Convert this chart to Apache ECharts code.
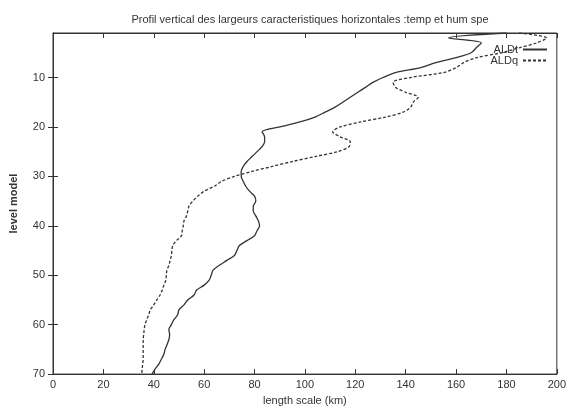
<!DOCTYPE html>
<html>
<head>
<meta charset="utf-8">
<script src="https://cdn.jsdelivr.net/npm/echarts@6/dist/echarts.min.js"></script>
<style>
  html, body { margin: 0; padding: 0; background: #fff; }
  #chart { width: 569px; height: 411px; }
</style>
</head>
<body>
<div id="chart"></div>
<script>
// niveaux du modele (1 = haut)
var levels = [];
for (var i = 1; i <= 70; i++) levels.push(i);

// ALDt : echelle de longueur temperature (km)
var aldt = [
  180, 157, 170, 168, 166, 160, 152, 146, 136, 131,
  127, 124, 121, 118, 115, 112, 108, 104, 98, 90,
  83, 84, 84, 83, 81, 79, 77, 75.5, 74.7, 74.7,
  75.5, 76.5, 78, 80, 80.5, 79.5, 79.5, 80.5, 81.5, 82,
  81, 80, 77, 74, 73, 72, 69, 66, 63.5, 62.8,
  62, 60, 57, 56, 53.5, 52, 50, 49.5, 48, 47,
  46, 46.3, 46, 45.3, 44.5, 44, 43, 42, 40.5, 39.3
];

// ALDq : echelle de longueur humidite specifique (km)
var aldq = [
  185, 196, 192, 185, 178, 168, 163, 160, 155, 142,
  135, 136, 140, 145, 143, 142, 139, 132, 122, 114,
  111, 114, 118, 117.5, 113, 104, 95, 87, 79, 72,
  67, 64, 60, 57.5, 55.5, 54, 53.5, 53, 52, 51.7,
  51.3, 51, 49, 47.5, 47.2, 47, 46.5, 46, 45.2, 45,
  44.8, 44, 43.4, 42.5, 41.2, 40, 38.6, 38, 37.2, 36.5,
  36.2, 36, 35.8, 35.8, 35.8, 35.8, 35.8, 35.6, 35.4, 35.2
];

var levelTicks = [10, 20, 30, 40, 50, 60, 70];

function pairs(vals) {
  return vals.map(function (v, i) { return [v, levels[i]]; });
}

var myChart = echarts.init(document.getElementById('chart'));
var font = 'Liberation Sans, Arial, sans-serif';

var option = {
  backgroundColor: '#fff',
  animation: false,
  title: {
    text: 'Profil vertical des largeurs caracteristiques horizontales :temp et hum spe',
    left: 305,
    textAlign: 'center',
    top: 9,
    textStyle: { fontFamily: font, fontSize: 11, fontWeight: 'normal', color: '#333' }
  },
  legend: {
    orient: 'vertical',
    right: 16,
    top: 39,
    align: 'right',
    itemWidth: 24,
    itemHeight: 6,
    itemGap: 0,
    itemStyle: { opacity: 0 },
    textStyle: { fontFamily: font, fontSize: 11, lineHeight: 10, color: '#333' },
    data: ['ALDt', 'ALDq']
  },
  grid: {
    left: 51, right: 12, top: 33, bottom: 36,
    show: true, borderColor: '#333', borderWidth: 1
  },
  xAxis: [{
    type: 'value',
    min: 0, max: 200, interval: 20,
    name: 'length scale (km)',
    nameLocation: 'middle',
    nameGap: 18,
    nameTextStyle: { fontFamily: font, fontSize: 11, color: '#333' },
    axisLine: { show: true, lineStyle: { color: '#333' } },
    axisTick: { inside: true, length: 5, lineStyle: { color: '#333' } },
    axisLabel: { fontFamily: font, fontSize: 11, color: '#333', margin: 5 },
    splitLine: { show: false }
  }, {
    type: 'value',
    position: 'top',
    min: 0, max: 200, interval: 20,
    axisLine: { show: true, lineStyle: { color: '#333' } },
    axisTick: { inside: true, length: 5, lineStyle: { color: '#333' } },
    axisLabel: { show: false },
    splitLine: { show: false }
  }],
  yAxis: [{
    type: 'value',
    inverse: true,
    min: 1, max: 70,
    name: 'level model',
    nameLocation: 'middle',
    nameGap: 34,
    nameTextStyle: { fontFamily: font, fontSize: 11, fontWeight: 'bold', color: '#333' },
    axisLine: { show: true, lineStyle: { color: '#333' } },
    axisTick: { inside: true, length: 5, customValues: levelTicks, lineStyle: { color: '#333' } },
    axisLabel: { fontFamily: font, fontSize: 11, color: '#333', margin: 8, customValues: levelTicks },
    splitLine: { show: false }
  }, {
    type: 'value',
    position: 'right',
    inverse: true,
    min: 1, max: 70,
    axisLine: { show: true, lineStyle: { color: '#333' } },
    axisTick: { inside: true, length: 5, customValues: levelTicks, lineStyle: { color: '#333' } },
    axisLabel: { show: false },
    splitLine: { show: false }
  }],
  series: [{
    name: 'ALDt',
    type: 'line',
    data: pairs(aldt),
    symbol: 'none',
    smooth: 0.3,
    lineStyle: { color: '#333', width: 1.3, type: 'solid' },
    itemStyle: { color: '#333' }
  }, {
    name: 'ALDq',
    type: 'line',
    data: pairs(aldq),
    symbol: 'none',
    smooth: 0.3,
    lineStyle: { color: '#333', width: 1.3, type: [3, 2] },
    itemStyle: { color: '#333' }
  }]
};

myChart.setOption(option);
</script>
</body>
</html>
